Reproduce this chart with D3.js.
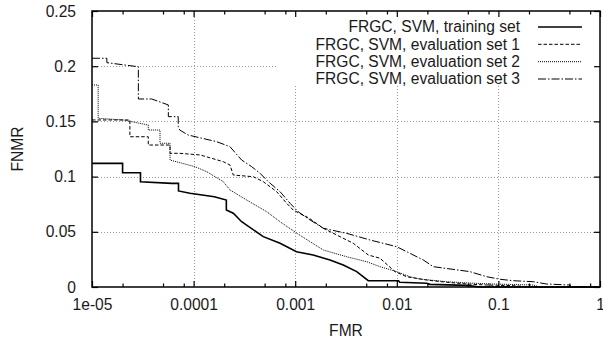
<!DOCTYPE html>
<html>
<head>
<meta charset="utf-8">
<script src="https://cdn.jsdelivr.net/npm/d3@7"></script>
<style>
  html, body { margin: 0; padding: 0; background: #fff; }
  svg { display: block; font-family: "Liberation Sans", Arial, sans-serif; }
</style>
</head>
<body>
<svg id="chart" width="603" height="340"></svg>
<script>
// [FMR, FNMR] pairs
const trainingSet = [
  [1e-5, 0.112], [2.0e-5, 0.112], [2.0e-5, 0.1035], [3.0e-5, 0.1035], [3.0e-5, 0.0954],
  [6.1e-5, 0.0939], [7.1e-5, 0.0939], [7.1e-5, 0.087], [9.2e-5, 0.0849], [1.6e-4, 0.0818],
  [2.1e-4, 0.0788], [2.1e-4, 0.0697], [2.46e-4, 0.0668], [2.97e-4, 0.0591], [4.85e-4, 0.0456],
  [7.1e-4, 0.0396], [1.03e-3, 0.032], [1.5e-3, 0.029], [2.2e-3, 0.0245], [2.97e-3, 0.0199],
  [4.03e-3, 0.0139], [5.24e-3, 0.0057], [0.0104, 0.0057], [0.0107, 0.0043], [0.0197, 0.0034],
  [0.0212, 0.0024], [0.0487, 0.0015], [0.066, 0], [1, 0]
];
const evalSet1 = [
  [1e-5, 0.1513], [2.36e-5, 0.1513], [2.36e-5, 0.1361], [3.58e-5, 0.1361], [3.58e-5, 0.1286],
  [5.86e-5, 0.1286], [5.86e-5, 0.1211], [7.3e-5, 0.1211], [1.16e-4, 0.1196], [1.96e-4, 0.1135],
  [2.28e-4, 0.1105], [2.46e-4, 0.1014], [3.87e-4, 0.0999], [4.85e-4, 0.0954], [6.58e-4, 0.0863],
  [8.24e-4, 0.0758], [9.57e-4, 0.0697], [1.38e-3, 0.0622], [1.89e-3, 0.0532], [3.73e-3, 0.0396],
  [5.24e-3, 0.029], [6.84e-3, 0.026], [9.6e-3, 0.0139], [0.0125, 0.0093], [0.0197, 0.0063],
  [0.031, 0.0043], [0.0488, 0.0027], [0.0767, 0.0018], [0.14, 0.0012], [0.205, 0], [1, 0]
];
const evalSet2 = [
  [1e-5, 0.183], [1.15e-5, 0.183], [1.15e-5, 0.1528], [2.03e-5, 0.1513], [3.58e-5, 0.1467],
  [3.58e-5, 0.1422], [4.67e-5, 0.1422], [4.67e-5, 0.1302], [5.86e-5, 0.1302], [5.86e-5, 0.115],
  [1.03e-4, 0.109], [1.35e-4, 0.1044], [1.96e-4, 0.0954], [2.28e-4, 0.0879], [3.33e-4, 0.0788],
  [5.24e-4, 0.0682], [7.1e-4, 0.0591], [1.04e-3, 0.0486], [1.89e-3, 0.0335], [3.21e-3, 0.0274],
  [5.06e-3, 0.0229], [6.84e-3, 0.0184], [9.98e-3, 0.0139], [0.0135, 0.0093], [0.0169, 0.0072],
  [0.031, 0.0048], [0.0566, 0.0034], [0.0891, 0.0027], [0.22, 0.0018], [0.256, 0], [1, 0]
];
const evalSet3 = [
  [1e-5, 0.2072], [1.4e-5, 0.2072], [1.4e-5, 0.2032], [2.86e-5, 0.1995], [2.86e-5, 0.1703],
  [3.87e-5, 0.1703], [5.64e-5, 0.1649], [5.64e-5, 0.1543], [7.06e-5, 0.1543], [7.06e-5, 0.1452],
  [7.3e-5, 0.1422], [8.8e-5, 0.1377], [1.69e-4, 0.1316], [2.28e-4, 0.1271], [2.97e-4, 0.115],
  [3.73e-4, 0.109], [4.51e-4, 0.103], [5.43e-4, 0.0954], [7.1e-4, 0.0863], [8.9e-4, 0.0758],
  [1.07e-3, 0.0682], [1.32e-3, 0.0622], [1.89e-3, 0.0532], [3.21e-3, 0.0486], [5.44e-3, 0.0426],
  [9.98e-3, 0.0365], [0.0125, 0.032], [0.0182, 0.0245], [0.0229, 0.0184], [0.0525, 0.0139],
  [0.0767, 0.0093], [0.104, 0.007], [0.14, 0.0057], [0.22, 0.0048], [0.298, 0.0027],
  [0.507, 0.0018], [0.526, 0], [1, 0]
];

const seriesNames = [
  'FRGC, SVM, training set',
  'FRGC, SVM, evaluation set 1',
  'FRGC, SVM, evaluation set 2',
  'FRGC, SVM, evaluation set 3'
];
const xTicks = [1e-5, 1e-4, 1e-3, 1e-2, 1e-1, 1];
const xTickLabels = ['1e-05', '0.0001', '0.001', '0.01', '0.1', '1'];
const yTicks = [0, 0.05, 0.1, 0.15, 0.2, 0.25];
const yTickLabels = ['0', '0.05', '0.1', '0.15', '0.2', '0.25'];

const plotLeft = 92, plotRight = 600, plotTop = 11, plotBottom = 287;
const fontSize = 15.6;

const svg = d3.select('#chart');

const x = d3.scaleLog().domain([1e-5, 1]).range([plotLeft, plotRight]);
const y = d3.scaleLinear().domain([0, 0.25]).range([plotBottom, plotTop]);

// minor ticks at 2, 5, 8 of each decade
const xMinor = [];
xTicks.slice(0, -1).forEach(t => [2, 5, 8].forEach(m => xMinor.push(t * m)));

// grid
const grid = svg.append('g')
  .attr('stroke', '#9a9a9a')
  .attr('stroke-width', 1)
  .attr('stroke-dasharray', '1,2');
grid.selectAll('.vx')
  .data(xTicks.slice(1, -1))
  .enter().append('line')
  .attr('x1', d => Math.round(x(d)) + 0.5)
  .attr('x2', d => Math.round(x(d)) + 0.5)
  .attr('y1', plotTop)
  .attr('y2', plotBottom);
grid.selectAll('.hy')
  .data(yTicks.slice(1, -1))
  .enter().append('line')
  .attr('x1', plotLeft)
  .attr('x2', plotRight)
  .attr('y1', d => Math.round(y(d)) + 0.5)
  .attr('y2', d => Math.round(y(d)) + 0.5);

// key box hides the grid behind it
svg.append('rect')
  .attr('x', 277).attr('y', plotTop + 1)
  .attr('width', plotRight - 277).attr('height', 85 - plotTop)
  .attr('fill', '#fff');

// curves
const styles = [
  { dash: null, width: 1.6 },
  { dash: '3.5,2', width: 1 },
  { dash: '1,1', width: 1 },
  { dash: '8,2,1.5,2', width: 1 }
];
const line = d3.line()
  .x(d => x(d[0]))
  .y(d => y(d[1]));

[trainingSet, evalSet1, evalSet2, evalSet3].forEach((s, i) => {
  svg.append('path')
    .datum(s)
    .attr('d', line)
    .attr('fill', 'none')
    .attr('stroke', '#000')
    .attr('stroke-width', styles[i].width)
    .attr('stroke-dasharray', styles[i].dash);
});

// axes (ticks pointing inward, mirrored)
function styleAxis(g) {
  g.select('.domain').remove();
  g.selectAll('.tick line').attr('stroke', '#000').attr('stroke-width', 1.2);
  g.selectAll('text')
    .attr('fill', '#1a1a1a')
    .attr('font-size', fontSize)
    .attr('font-family', '"Liberation Sans", Arial, sans-serif');
}

svg.append('g')
  .attr('transform', `translate(0,${plotBottom})`)
  .call(d3.axisBottom(x).tickValues(xTicks)
    .tickFormat((d, i) => xTickLabels[i])
    .tickSizeInner(-6).tickSizeOuter(0).tickPadding(12))
  .call(styleAxis);
svg.append('g')
  .attr('transform', `translate(0,${plotBottom})`)
  .call(d3.axisBottom(x).tickValues(xMinor).tickFormat('')
    .tickSizeInner(-3.5).tickSizeOuter(0))
  .call(styleAxis);
svg.append('g')
  .attr('transform', `translate(0,${plotTop})`)
  .call(d3.axisTop(x).tickValues(xTicks).tickFormat('')
    .tickSizeInner(-6).tickSizeOuter(0))
  .call(styleAxis);
svg.append('g')
  .attr('transform', `translate(0,${plotTop})`)
  .call(d3.axisTop(x).tickValues(xMinor).tickFormat('')
    .tickSizeInner(-3.5).tickSizeOuter(0))
  .call(styleAxis);
svg.append('g')
  .attr('transform', `translate(${plotLeft},0)`)
  .call(d3.axisLeft(y).tickValues(yTicks)
    .tickFormat((d, i) => yTickLabels[i])
    .tickSizeInner(-6).tickSizeOuter(0).tickPadding(16))
  .call(styleAxis);
svg.append('g')
  .attr('transform', `translate(${plotRight},0)`)
  .call(d3.axisRight(y).tickValues(yTicks).tickFormat('')
    .tickSizeInner(-6).tickSizeOuter(0))
  .call(styleAxis);

// frame
svg.append('rect')
  .attr('x', plotLeft).attr('y', plotTop)
  .attr('width', plotRight - plotLeft).attr('height', plotBottom - plotTop)
  .attr('fill', 'none')
  .attr('stroke', '#000')
  .attr('stroke-width', 1.5);

// key
const keyY = [27, 44.3, 61.7, 79];
const key = svg.append('g');
seriesNames.forEach((name, i) => {
  key.append('text')
    .attr('x', 520)
    .attr('y', keyY[i])
    .attr('dy', '0.35em')
    .attr('text-anchor', 'end')
    .attr('font-size', fontSize)
    .attr('fill', '#1a1a1a')
    .text(name);
  key.append('line')
    .attr('x1', 538).attr('x2', 582)
    .attr('y1', keyY[i]).attr('y2', keyY[i])
    .attr('stroke', '#000')
    .attr('stroke-width', styles[i].width)
    .attr('stroke-dasharray', styles[i].dash);
});

// axis titles
svg.append('text')
  .attr('x', (plotLeft + plotRight) / 2)
  .attr('y', 331)
  .attr('dy', '0.35em')
  .attr('text-anchor', 'middle')
  .attr('font-size', fontSize)
  .attr('fill', '#1a1a1a')
  .text('FMR');
svg.append('text')
  .attr('transform', `translate(18,${(plotTop + plotBottom) / 2}) rotate(-90)`)
  .attr('dy', '0.35em')
  .attr('text-anchor', 'middle')
  .attr('font-size', fontSize)
  .attr('fill', '#1a1a1a')
  .text('FNMR');
</script>
</body>
</html>
